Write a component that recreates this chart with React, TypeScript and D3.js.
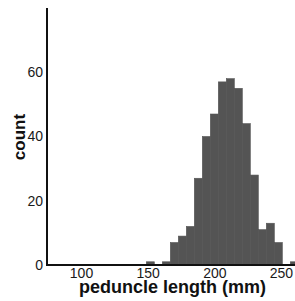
import React from "react";
import * as d3 from "d3";

// histogram bins (left edge, mm) and counts
const binStarts = [149, 155, 161, 167, 173, 179, 185, 191, 197, 203, 209, 215, 221, 227, 233, 239, 245, 251, 257];
const counts = [1, 0, 1, 7, 9, 12, 27, 40, 47, 57, 58, 55, 44, 28, 11, 13, 7, 0, 1];
const binWidth = 6;
const xTicks = [100, 150, 200, 250];
const yTicks = [0, 20, 40, 60];

const width = 295;
const height = 301;

const App = () => {
  const svgRef = React.useRef<SVGSVGElement>(null);

  React.useEffect(() => {
    const xScale = d3.scaleLinear().domain([74.5, 266]).range([47, 302.3]);
    const yScale = d3.scaleLinear().domain([0, 80]).range([265, 8]);

    const svg = d3.select(svgRef.current);
    svg.selectAll("*").remove();

    const font = "'Liberation Sans', Arial, sans-serif";

    // bars, no gaps between bins
    const bins = binStarts.map((x0, i) => ({ x0, x1: x0 + binWidth, n: counts[i] }));
    svg.append("g")
      .selectAll("rect")
      .data(bins.filter((d) => d.n > 0))
      .enter()
      .append("rect")
      .attr("x", (d) => xScale(d.x0))
      .attr("width", (d) => xScale(d.x1) - xScale(d.x0))
      .attr("y", (d) => yScale(d.n))
      .attr("height", (d) => yScale(0) - yScale(d.n))
      .attr("fill", "#545454")
      .attr("stroke", "#545454")
      .attr("stroke-width", 0.6);

    // x axis
    const xAxis = d3.axisBottom(xScale).tickValues(xTicks).tickSize(0);
    const xg = svg.append("g").attr("transform", `translate(0, ${yScale(0)})`).call(xAxis);
    xg.select(".domain").remove();
    xg.selectAll("text")
      .attr("y", 13)
      .attr("dy", 0)
      .attr("font-family", font)
      .attr("font-size", 14)
      .attr("fill", "#1a1a1a");

    // y axis
    const yAxis = d3.axisLeft(yScale).tickValues(yTicks).tickSize(0).tickPadding(4);
    const yg = svg.append("g").attr("transform", `translate(${xScale.range()[0]}, 0)`).call(yAxis);
    yg.select(".domain").remove();
    yg.selectAll("text")
      .attr("font-family", font)
      .attr("font-size", 14)
      .attr("fill", "#1a1a1a");

    // axis lines
    svg.append("line")
      .attr("x1", 47).attr("x2", 47)
      .attr("y1", yScale(80)).attr("y2", yScale(0) + 1)
      .attr("stroke", "#111").attr("stroke-width", 2);
    svg.append("line")
      .attr("x1", 46).attr("x2", width)
      .attr("y1", yScale(0)).attr("y2", yScale(0))
      .attr("stroke", "#111").attr("stroke-width", 2);

    // titles
    svg.append("text")
      .attr("x", 172.5)
      .attr("y", 293)
      .attr("text-anchor", "middle")
      .attr("font-family", font)
      .attr("font-weight", "bold")
      .attr("font-size", 18)
      .attr("fill", "#111")
      .text("peduncle length (mm)");
    svg.append("text")
      .attr("transform", "translate(25, 137) rotate(-90)")
      .attr("text-anchor", "middle")
      .attr("font-family", font)
      .attr("font-weight", "bold")
      .attr("font-size", 17)
      .attr("fill", "#111")
      .text("count");
  }, []);

  return (
    <svg
      ref={svgRef}
      width={width}
      height={height}
      style={{ position: "absolute", left: 0, top: 0, background: "#fff" }}
    />
  );
};

export default App;
